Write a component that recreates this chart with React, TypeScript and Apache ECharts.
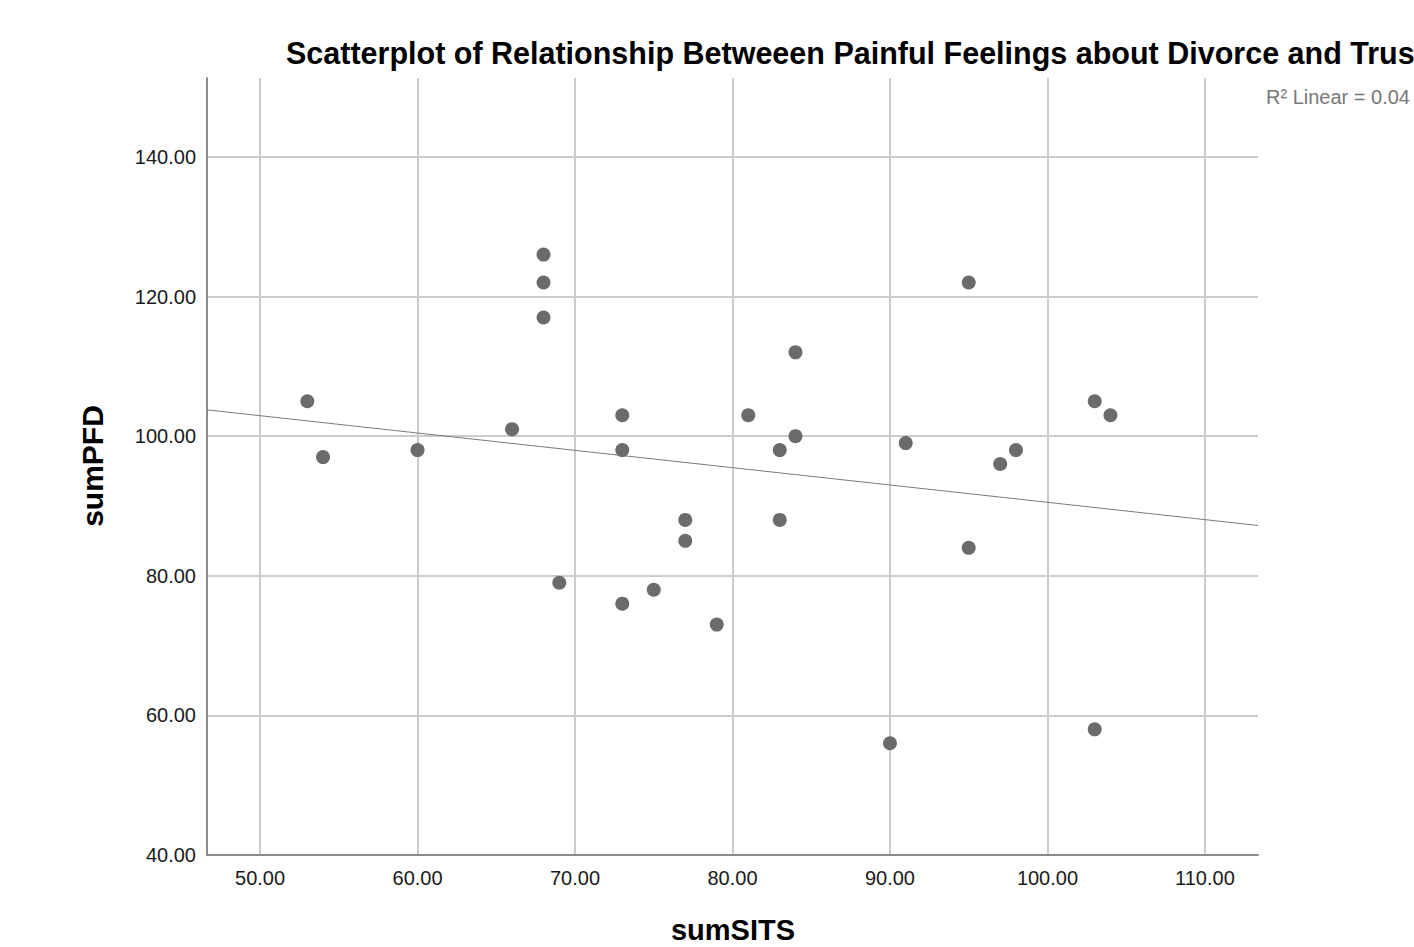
import React, { useEffect, useRef } from "react";
import * as echarts from "echarts";

const sumSITS = [53, 54, 60, 66, 68, 68, 68, 69, 73, 73, 73, 75, 77, 77, 79, 81, 83, 83, 84, 84, 90, 91, 95, 95, 97, 98, 103, 104, 103];
const sumPFD = [105, 97, 98, 101, 126, 122, 117, 79, 103, 98, 76, 78, 88, 85, 73, 103, 98, 88, 112, 100, 56, 99, 122, 84, 96, 98, 105, 103, 58];
const xTicks = [50, 60, 70, 80, 90, 100, 110];
const yTicks = [40, 60, 80, 100, 120, 140];
const xRange = [46.63, 113.37];
const yRange = [40, 151.3];
const titleText = "Scatterplot of Relationship Betweeen Painful Feelings about Divorce and Trust";
const r2Text = "R² Linear = 0.04";

function regression(xs: number[], ys: number[]) {
  const n = xs.length;
  const mx = xs.reduce((a, b) => a + b, 0) / n;
  const my = ys.reduce((a, b) => a + b, 0) / n;
  let sxy = 0, sxx = 0;
  for (let i = 0; i < n; i++) {
    sxy += (xs[i] - mx) * (ys[i] - my);
    sxx += (xs[i] - mx) * (xs[i] - mx);
  }
  const b = sxy / sxx;
  return { a: my - b * mx, b };
}

export default function App() {
  const ref = useRef<HTMLDivElement>(null);
  useEffect(() => {
    const chart = echarts.init(ref.current!, null, { renderer: "svg" });
    const { a, b } = regression(sumSITS, sumPFD);
    const font = "'Liberation Sans', Arial, sans-serif";
    chart.setOption({
      animation: false,
      backgroundColor: "#ffffff",
      grid: { left: 207, right: 156, top: 78, bottom: 92, containLabel: false },
      xAxis: {
        type: "value",
        min: xRange[0],
        max: xRange[1],
        axisLine: { show: true, lineStyle: { color: "#8c8c8c", width: 2 } },
        axisTick: { show: false, customValues: xTicks },
        axisLabel: {
          customValues: xTicks,
          formatter: (v: number) => v.toFixed(2),
          color: "#1a1a1a",
          fontSize: 20,
          fontFamily: font,
          margin: 13,
        },
        splitLine: { show: true, lineStyle: { color: "#cccccc", width: 2 } },
      },
      yAxis: {
        type: "value",
        min: yRange[0],
        max: yRange[1],
        axisLine: { show: true, onZero: false, lineStyle: { color: "#8c8c8c", width: 2 } },
        axisTick: { show: false, customValues: yTicks },
        axisLabel: {
          customValues: yTicks,
          formatter: (v: number) => v.toFixed(2),
          color: "#1a1a1a",
          fontSize: 20,
          fontFamily: font,
          margin: 11,
        },
        splitLine: { show: true, lineStyle: { color: "#cccccc", width: 2 } },
      },
      graphic: [
        {
          type: "text",
          x: 286,
          y: 53,
          style: { text: titleText, font: `bold 30.5px ${font}`, fill: "#000", align: "left", verticalAlign: "middle" },
        },
        {
          type: "text",
          x: 1266,
          y: 97,
          style: { text: r2Text, font: `20px ${font}`, fill: "#777", align: "left", verticalAlign: "middle" },
        },
        {
          type: "text",
          x: 92,
          y: 466,
          rotation: Math.PI / 2,
          style: { text: "sumPFD", font: `bold 30px ${font}`, fill: "#000", align: "center", verticalAlign: "middle" },
        },
        {
          type: "text",
          x: 733,
          y: 930,
          style: { text: "sumSITS", font: `bold 29px ${font}`, fill: "#000", align: "center", verticalAlign: "middle" },
        },
      ],
      series: [
        {
          type: "line",
          data: [
            [xRange[0], a + b * xRange[0]],
            [xRange[1], a + b * xRange[1]],
          ],
          symbol: "none",
          lineStyle: { color: "#7a7a7a", width: 1 },
          silent: true,
          z: 3,
        },
        {
          type: "scatter",
          data: sumSITS.map((x, i) => [x, sumPFD[i]]),
          symbolSize: 14,
          itemStyle: { color: "#6b6b6b", opacity: 1 },
          z: 4,
        },
      ],
    });
    return () => chart.dispose();
  }, []);
  return (
    <div
      ref={ref}
      style={{ position: "fixed", left: 0, top: 0, width: 1414, height: 947 }}
    />
  );
}
